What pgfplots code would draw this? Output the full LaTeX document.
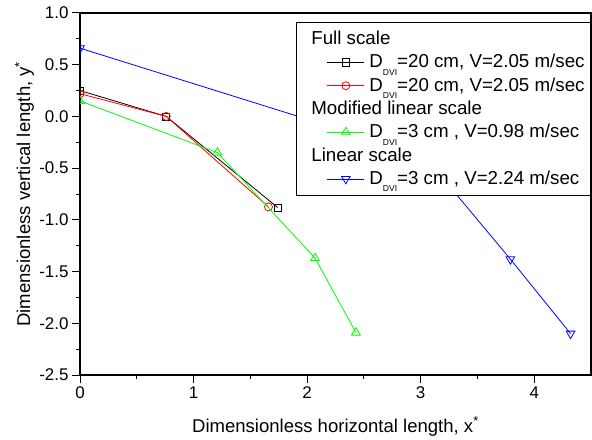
\documentclass[border=0pt]{standalone}
\usepackage{pgfplots}
\pgfplotsset{compat=1.18}
\usepackage{fontspec}
\setmainfont{Liberation Sans}

% subscript as set by the original software: small and well below the baseline
\newcommand{\dvi}{D\raisebox{-7.5bp}{\fontsize{8.6}{9}\selectfont DVI}}
\newcommand{\head}[1]{\makebox[0pt][l]{\hspace{-58bp}#1}}

\begin{document}
\begin{tikzpicture}
\begin{axis}[
  scale only axis, width=511bp, height=362bp,
  xmin=0, xmax=4.5, ymin=-2.5, ymax=1.0,
  xtick={0,1,2,3,4}, minor x tick num=1,
  ytick={-2.5,-2.0,-1.5,-1.0,-0.5,0.0,0.5,1.0}, minor y tick num=1,
  tick pos=left, tick align=outside,
  major tick length=8bp, minor tick length=4bp,
  axis line style={line width=1.2bp},
  every tick/.style={black, line width=1bp},
  /pgf/number format/assume math mode=true,
  tick label style={font=\fontsize{17}{19}\selectfont},
  yticklabel style={/pgf/number format/.cd, fixed, fixed zerofill, precision=1},
  label style={font=\fontsize{18.6}{20}\selectfont},
  xlabel={Dimensionless horizontal length, x\textsuperscript{*}},
  ylabel={Dimensionless vertical length, y\textsuperscript{*}},
  xlabel style={at={(axis description cs:0.5,-0.1575)}, anchor=base},
  ylabel style={at={(axis description cs:-0.0978,0.5)}, anchor=base},
  clip marker paths=true,
  every axis plot/.append style={line width=0.8bp},
  legend image code/.code={
    \path[draw=none, fill=none] (-27bp,0bp) -- (40bp,0bp);
    \draw[mark repeat=2,mark phase=2,#1] plot coordinates {(0bp,0bp) (18.5bp,0bp) (37bp,0bp)};},
  legend cell align=left,
  legend style={at={(1,1)}, anchor=north east, yshift=-9bp,
    draw=black, line width=0.9bp, fill=white,
    font=\fontsize{18.8}{20}\selectfont, row sep=0pt,
    inner xsep=4bp, inner ysep=5bp,
    nodes={text height=14bp, text depth=3bp, inner ysep=3.15bp}},
]
\addlegendimage{empty legend}
\addlegendentry{\head{Full scale}}
\addplot[black, mark=square, mark size=3.5bp, mark options={fill=white}] coordinates {
  (0,0.25) (0.76,0.0) (1.74,-0.88)};
\addlegendentry{\dvi=20 cm, V=2.05 m/sec}
\addplot[red, mark=o, mark size=4bp, mark options={fill=white}] coordinates {
  (0,0.22) (0.76,0.0) (1.66,-0.875)};
\addlegendentry{\dvi=20 cm, V=2.05 m/sec}
\addlegendimage{empty legend}
\addlegendentry{\head{Modified linear scale}}
\addplot[green, mark=triangle, mark size=5bp, mark options={fill=white}] coordinates {
  (0,0.15) (1.21,-0.35) (2.07,-1.37) (2.43,-2.09)};
\addlegendentry{\dvi=3 cm , V=0.98 m/sec}
\addlegendimage{empty legend}
\addlegendentry{\head{Linear scale}}
\addplot[blue, mark=triangle, mark size=5bp, mark options={fill=white, rotate=180}] coordinates {
  (0,0.66) (3.03,-0.38) (3.79,-1.38) (4.32,-2.10)};
\addlegendentry{\dvi=3 cm , V=2.24 m/sec}
\end{axis}
\pgfresetboundingbox
\path ([xshift=-80bp,yshift=-64bp]current axis.south west) rectangle ([xshift=1bp,yshift=13bp]current axis.north east);
\end{tikzpicture}
\end{document}
